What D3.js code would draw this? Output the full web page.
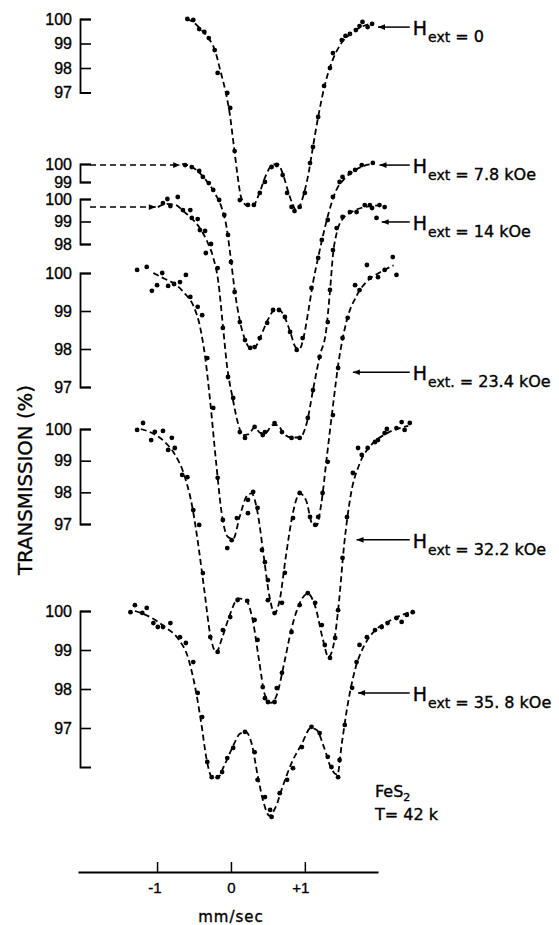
<!DOCTYPE html>
<html>
<head>
<meta charset="utf-8">
<script src="https://cdn.jsdelivr.net/npm/d3@7"></script>
<style>
  body { margin: 0; background: #fff; }
  svg { display: block; }
  text { stroke: #000; stroke-width: 0.35px; }
</style>
</head>
<body>
<div id="chart"></div>
<script>
// velocity (mm/sec), transmission (%)
const s1Points = [[-0.59,100.0],[-0.51,99.96],[-0.43,99.59],[-0.36,99.47],[-0.30,99.22],[-0.22,98.73],[-0.18,97.80],[-0.05,96.98],[-0.01,96.37],[0.05,94.61],[0.12,92.61],[0.23,92.41],[0.31,92.41],[0.39,92.90],[0.46,93.35],[0.55,93.96],[0.62,94.04],[0.70,93.63],[0.76,92.90],[0.82,92.33],[0.86,92.16],[0.93,92.33],[1.00,92.90],[1.07,94.12],[1.11,94.78],[1.18,96.00],[1.26,97.27],[1.34,98.00],[1.38,98.61],[1.50,99.14],[1.55,99.31],[1.61,99.39],[1.69,99.55],[1.74,99.71],[1.78,99.88],[1.85,99.67],[1.91,99.80]];
const s1Fit = [[-0.60,100.0],[-0.50,99.85],[-0.40,99.55],[-0.30,99.2],[-0.22,98.75],[-0.14,97.85],[-0.07,97.0],[-0.02,96.2],[0.04,94.8],[0.09,93.6],[0.14,92.7],[0.22,92.38],[0.30,92.38],[0.38,92.85],[0.47,93.6],[0.56,94.05],[0.63,94.08],[0.70,93.7],[0.77,93.0],[0.84,92.4],[0.88,92.2],[0.93,92.35],[0.99,92.9],[1.05,93.7],[1.10,94.6],[1.18,96.0],[1.27,97.3],[1.36,98.2],[1.48,98.95],[1.62,99.4],[1.78,99.7],[1.92,99.82]];

const s2Points = [[-0.62,99.94],[-0.53,99.83],[-0.43,99.61],[-0.38,99.28],[-0.30,98.94],[-0.24,98.56],[-0.16,98.00],[-0.09,97.17],[-0.04,96.06],[0.00,94.56],[0.05,92.89],[0.12,91.22],[0.19,90.22],[0.26,89.78],[0.32,89.83],[0.39,90.33],[0.49,91.17],[0.57,91.89],[0.65,91.89],[0.73,91.50],[0.80,90.67],[0.89,89.67],[0.97,90.33],[1.09,93.11],[1.18,94.78],[1.23,95.78],[1.31,96.89],[1.38,98.17],[1.47,99.00],[1.51,99.28],[1.61,99.50],[1.68,99.67],[1.77,99.94],[1.92,100.06]];
const s2Fit = [[-0.66,100.0],[-0.52,99.82],[-0.40,99.4],[-0.30,98.9],[-0.20,98.25],[-0.12,97.5],[-0.06,96.5],[-0.01,95.0],[0.05,93.0],[0.12,91.3],[0.19,90.25],[0.26,89.78],[0.33,89.85],[0.41,90.5],[0.50,91.35],[0.58,91.85],[0.65,91.9],[0.72,91.55],[0.80,90.7],[0.88,89.8],[0.93,89.75],[0.99,90.5],[1.05,91.9],[1.11,93.4],[1.18,94.8],[1.25,96.1],[1.33,97.4],[1.42,98.5],[1.54,99.2],[1.68,99.65],[1.80,99.9],[1.92,100.0]];

const s3Points = [[-0.92,99.82],[-0.86,100.0],[-0.82,99.69],[-0.72,100.09],[-0.65,99.51],[-0.55,99.51],[-0.53,99.16],[-0.45,99.11],[-0.42,98.62],[-0.35,98.58],[-0.27,98.00],[-0.34,97.60],[-0.18,96.93],[-0.11,94.27],[-0.04,92.09],[0.03,91.16],[0.12,89.64],[0.19,89.38],[0.32,89.87],[0.43,89.51],[0.46,89.64],[0.59,90.04],[0.69,89.64],[0.82,89.38],[0.93,89.38],[1.04,90.27],[1.11,91.51],[1.20,92.98],[1.31,94.53],[1.34,95.96],[1.38,97.73],[1.43,98.71],[1.51,99.20],[1.61,99.42],[1.70,99.42],[1.81,99.73],[1.88,99.73],[1.91,99.60],[1.97,99.16],[2.01,99.73],[2.08,99.64]];
const s3Fit = [[-0.99,99.64],[-0.88,99.78],[-0.76,99.75],[-0.64,99.45],[-0.52,99.1],[-0.42,98.7],[-0.32,98.1],[-0.24,97.4],[-0.17,96.3],[-0.11,94.4],[-0.05,92.5],[0.02,91.2],[0.09,90.1],[0.16,89.5],[0.24,89.55],[0.32,89.85],[0.40,89.6],[0.47,89.6],[0.56,89.95],[0.63,89.95],[0.72,89.55],[0.82,89.4],[0.93,89.4],[1.03,90.1],[1.11,91.5],[1.20,93.0],[1.29,94.2],[1.34,95.9],[1.38,97.5],[1.44,98.6],[1.52,99.15],[1.62,99.4],[1.76,99.6],[1.92,99.7],[2.06,99.72]];

const s4Points = [[-1.27,100.08],[-1.14,100.16],[-1.07,99.53],[-1.00,99.68],[-0.93,100.0],[-0.85,99.66],[-0.77,99.71],[-0.69,99.76],[-0.61,99.95],[-0.55,99.37],[-0.45,99.11],[-0.39,98.89],[-0.32,97.76],[-0.24,96.45],[-0.18,94.61],[-0.11,93.50],[-0.05,92.76],[0.01,92.97],[0.08,93.55],[0.23,94.03],[0.30,94.24],[0.23,93.68],[0.36,93.82],[0.42,92.71],[0.46,92.39],[0.50,91.92],[0.50,91.39],[0.59,91.05],[0.69,91.32],[0.73,92.11],[0.84,93.55],[0.93,94.21],[1.07,93.58],[1.14,93.37],[1.18,93.58],[1.24,94.21],[1.31,95.03],[1.38,96.26],[1.45,97.50],[1.51,98.29],[1.58,98.82],[1.68,99.68],[1.74,99.55],[1.84,100.21],[1.88,99.87],[1.99,99.89],[2.08,100.08],[2.19,100.42],[2.24,99.95]];
const s4Fit = [[-1.05,100.0],[-0.90,99.85],[-0.75,99.7],[-0.62,99.45],[-0.50,99.1],[-0.42,98.6],[-0.35,97.8],[-0.28,96.6],[-0.20,95.0],[-0.12,93.6],[-0.04,93.05],[0.03,93.0],[0.12,93.6],[0.22,94.15],[0.28,94.2],[0.36,93.7],[0.44,92.6],[0.52,91.5],[0.59,91.05],[0.66,91.4],[0.74,92.5],[0.84,93.7],[0.93,94.2],[1.02,94.0],[1.10,93.4],[1.16,93.35],[1.22,93.9],[1.30,95.2],[1.38,96.5],[1.46,97.7],[1.56,98.7],[1.70,99.4],[1.85,99.8],[2.0,100.0],[2.2,100.2]];

const s5Points = [[-1.27,99.97],[-1.19,100.19],[-1.08,99.65],[-1.03,99.91],[-0.92,99.94],[-0.85,99.34],[-0.80,99.72],[-0.76,99.40],[-0.66,98.55],[-0.59,98.48],[-0.51,97.44],[-0.43,96.97],[-0.38,95.45],[-0.28,93.43],[-0.18,92.96],[-0.11,93.65],[-0.01,94.06],[0.09,94.60],[0.22,94.57],[0.32,93.97],[0.36,93.34],[0.43,91.85],[0.46,91.50],[0.50,91.38],[0.59,91.38],[0.62,91.82],[0.69,92.30],[0.82,93.59],[0.93,94.44],[1.04,94.82],[1.14,94.51],[1.23,93.81],[1.27,93.18],[1.34,92.77],[1.41,93.40],[1.45,94.28],[1.51,95.93],[1.57,97.22],[1.65,98.61],[1.77,99.18],[1.72,99.40],[1.85,99.40],[1.95,99.59],[1.99,99.65],[2.08,99.87],[2.11,100.0],[2.24,100.03],[2.35,99.97],[2.31,100.22],[2.42,100.19]];
const s5Fit = [[-1.22,100.0],[-1.05,99.85],[-0.90,99.6],[-0.76,99.2],[-0.64,98.6],[-0.52,97.5],[-0.44,96.3],[-0.36,94.9],[-0.28,93.5],[-0.20,92.95],[-0.12,93.4],[-0.02,94.1],[0.10,94.65],[0.20,94.6],[0.30,93.9],[0.38,92.7],[0.46,91.6],[0.54,91.35],[0.62,91.6],[0.72,92.6],[0.82,93.7],[0.94,94.55],[1.04,94.8],[1.14,94.4],[1.24,93.4],[1.32,92.8],[1.39,93.2],[1.46,94.5],[1.53,96.3],[1.62,97.9],[1.74,98.9],[1.90,99.5],[2.1,99.85],[2.4,100.1]];

const s6Points = [[-1.36,99.97],[-1.30,100.15],[-1.20,99.95],[-1.14,100.08],[-1.05,99.69],[-0.99,99.59],[-0.92,99.59],[-0.82,99.69],[-0.69,99.33],[-0.61,99.18],[-0.51,98.69],[-0.45,97.90],[-0.39,97.28],[-0.32,96.13],[-0.26,95.74],[-0.18,95.74],[-0.12,95.87],[-0.05,96.23],[0.03,96.49],[0.19,96.90],[0.32,96.38],[0.36,95.67],[0.46,95.23],[0.53,94.90],[0.55,94.72],[0.66,95.33],[0.76,95.67],[0.84,95.97],[0.96,96.51],[1.09,97.03],[1.20,96.87],[1.31,96.26],[1.36,96.00],[1.45,95.74],[1.47,96.18],[1.54,97.08],[1.64,98.03],[1.70,98.69],[1.74,99.13],[1.84,99.33],[1.95,99.51],[2.04,99.59],[2.12,99.69],[2.24,99.82],[2.31,99.72],[2.38,99.90],[2.46,99.97]];
const s6Fit = [[-1.30,100.0],[-1.10,99.85],[-0.90,99.6],[-0.72,99.3],[-0.58,98.8],[-0.48,98.0],[-0.40,97.1],[-0.33,96.2],[-0.26,95.75],[-0.18,95.72],[-0.10,96.0],[0.02,96.5],[0.12,96.85],[0.20,96.9],[0.28,96.6],[0.36,95.8],[0.44,95.1],[0.52,94.75],[0.60,94.95],[0.70,95.5],[0.82,96.1],[0.96,96.6],[1.08,97.0],[1.16,96.95],[1.26,96.5],[1.36,95.95],[1.44,95.8],[1.50,96.6],[1.58,97.6],[1.68,98.5],[1.80,99.1],[1.95,99.5],[2.15,99.75],[2.46,100.0]];

const s1Ticks = [100, 99, 98, 97];
const s2Ticks = [100, 99];
const s3Ticks = [100, 99, 98];
const s4Ticks = [100, 99, 98, 97];
const s5Ticks = [100, 99, 98, 97];
const s6Ticks = [100, 99, 98, 97];

const fieldLabels = ["0", "7.8 kOe", "14 kOe", "23.4 kOe", "32.2 kOe", "35. 8 kOe"];
const subLabels = ["ext", "ext", "ext", "ext.", "ext", "ext"];
const arrowTips = [[1.99, 99.67], [2.01, 99.94], [2.04, 98.98], [1.65, 97.39], [1.70, 96.50], [1.72, 97.90]];
const leadIns = [[1, -0.66, 99.94], [2, -0.99, 99.64]]; // panel, velocity, transmission
const velocityTicks = [-1, 0, 1];

const width = 559;
const height = 925;

// vertical placement of each stacked spectrum
const layout = [
    { points: s1Points, fit: s1Fit, ticks: s1Ticks, top: 19, unit: 24.5, low: 97 },
    { points: s2Points, fit: s2Fit, ticks: s2Ticks, top: 164, unit: 18, low: 99 },
    { points: s3Points, fit: s3Fit, ticks: s3Ticks, top: 199, unit: 22.5, low: 98 },
    { points: s4Points, fit: s4Fit, ticks: s4Ticks, top: 273, unit: 38, low: 97 },
    { points: s5Points, fit: s5Fit, ticks: s5Ticks, top: 429, unit: 31.67, low: 97 },
    { points: s6Points, fit: s6Fit, ticks: s6Ticks, top: 611, unit: 39, low: 96 }
];

const svg = d3.create("svg")
    .attr("width", width)
    .attr("height", height)
    .attr("viewBox", [0, 0, width, height])
    .style("background", "#fff")
    .style("font-family", "'DejaVu Sans', sans-serif");

const defs = svg.append("defs");
defs.append("marker")
    .attr("id", "head")
    .attr("viewBox", "0 -5 10 10")
    .attr("refX", 10)
    .attr("markerUnits", "userSpaceOnUse")
    .attr("markerWidth", 9)
    .attr("markerHeight", 7)
    .attr("orient", "auto")
    .append("path")
    .attr("d", "M0,-4L10,0L0,4Z")
    .attr("fill", "#000");

const x = d3.scaleLinear().domain([-2.07, 1.99]).range([78, 378]);

const yScales = layout.map(p => d3.scaleLinear()
    .domain([100, p.low])
    .range([p.top, p.top + (100 - p.low) * p.unit]));

layout.forEach((p, i) => {
    const y = yScales[i];

    const ax = svg.append("g")
        .attr("transform", "translate(80,0)")
        .call(d3.axisLeft(y).tickValues(p.ticks).tickSizeInner(-11).tickSizeOuter(-11)
            .tickPadding(8).tickFormat(d3.format("d")));
    ax.select(".domain").attr("stroke-width", 1.8);
    ax.selectAll(".tick line").attr("stroke-width", 1.6);
    ax.selectAll(".tick text").attr("font-size", 16).attr("fill", "#000");

    svg.append("path")
        .datum(p.fit)
        .attr("fill", "none")
        .attr("stroke", "#000")
        .attr("stroke-width", 1.8)
        .attr("stroke-dasharray", "6,3.5")
        .attr("d", d3.line().x(d => x(d[0])).y(d => y(d[1])).curve(d3.curveMonotoneX));

    svg.append("g")
        .selectAll("circle")
        .data(p.points)
        .join("circle")
        .attr("cx", d => x(d[0]))
        .attr("cy", d => y(d[1]))
        .attr("r", 2.4)
        .attr("fill", "#000");

    // field label with arrow on the right
    const tip = arrowTips[i];
    const tx = x(tip[0]), ty = y(tip[1]);
    const tail = x(2.42);
    svg.append("line")
        .attr("x1", tail).attr("y1", ty)
        .attr("x2", tx).attr("y2", ty)
        .attr("stroke", "#000").attr("stroke-width", 1.5)
        .attr("marker-end", "url(#head)");
    const t = svg.append("text")
        .attr("x", tail + 3)
        .attr("y", ty + 8)
        .attr("fill", "#000");
    t.append("tspan").attr("font-size", 19).text("H");
    t.append("tspan").attr("font-size", 14).attr("dx", 1).attr("dy", 7).text(subLabels[i]);
    t.append("tspan").attr("font-size", 16).text(" = " + fieldLabels[i]);
});

// dashed lead-in arrows from the brackets
leadIns.forEach(([pi, v, tr]) => {
    const y = yScales[pi];
    svg.append("line")
        .attr("x1", 90).attr("y1", y(tr))
        .attr("x2", x(v) - 2).attr("y2", y(tr))
        .attr("stroke", "#000").attr("stroke-width", 1.5)
        .attr("stroke-dasharray", "6,4")
        .attr("marker-end", "url(#head)");
});

// velocity axis
const xa = svg.append("g")
    .attr("transform", "translate(0,872)")
    .call(d3.axisBottom(x).tickValues(velocityTicks).tickSizeInner(-10).tickSizeOuter(0)
        .tickPadding(10).tickFormat(d => d > 0 ? "+" + d : d < 0 ? "-" + Math.abs(d) : "0"));
xa.select(".domain").attr("stroke-width", 1.8);
xa.selectAll(".tick line").attr("stroke-width", 1.5);
xa.selectAll(".tick text")
    .attr("font-size", 15)
    .attr("fill", "#000")
    .attr("text-anchor", d => d === 0 ? "middle" : "end")
    .attr("dx", d => d === 0 ? 0 : 4);

svg.append("text")
    .attr("x", x(0))
    .attr("y", 922)
    .attr("text-anchor", "middle")
    .attr("font-size", 15)
    .attr("letter-spacing", 1)
    .text("mm/sec");

svg.append("text")
    .attr("transform", "translate(32,575) rotate(-90)")
    .attr("font-size", 20)
    .attr("textLength", 190)
    .attr("lengthAdjust", "spacingAndGlyphs")
    .text("TRANSMISSION  (%)");

const fe = svg.append("text").attr("x", 375).attr("y", 797).attr("font-size", 16);
fe.append("tspan").text("FeS");
fe.append("tspan").attr("font-size", 11).attr("dy", 4).text("2");
svg.append("text").attr("x", 375).attr("y", 820).attr("font-size", 16).text("T= 42 k");

document.getElementById("chart").appendChild(svg.node());
</script>
</body>
</html>
